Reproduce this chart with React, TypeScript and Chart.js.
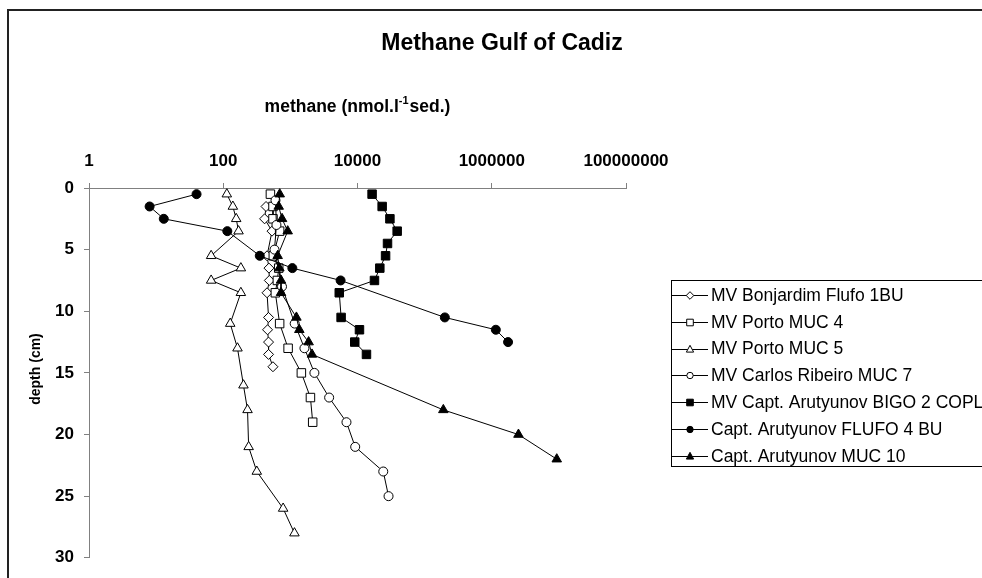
import React, { useEffect, useRef } from 'react';
import { Chart, registerables } from 'chart.js';

Chart.register(...registerables);

// ---------------- data ----------------
const chartTitle = 'Methane Gulf of Cadiz';
const xTitleMain = 'methane (nmol.l';
const xTitleSup = '-1';
const xTitleEnd = 'sed.)';
const yTitle = 'depth (cm)';

const xTickValues = [1, 100, 10000, 1000000, 100000000];
const yTickValues = [0, 5, 10, 15, 20, 25, 30];

const seriesNames = [
  'MV Bonjardim Flufo 1BU',
  'MV Porto MUC 4',
  'MV Porto MUC 5',
  'MV Carlos Ribeiro MUC 7',
  'MV Capt. Arutyunov BIGO 2 COPL1',
  'Capt. Arutyunov FLUFO 4 BU',
  'Capt. Arutyunov MUC 10',
];

const bonjardimDepth = [1.5, 2.5, 3.5, 5.5, 6.5, 7.5, 8.5, 10.5, 11.5, 12.5, 13.5, 14.5];
const bonjardimMethane = [434, 413, 533, 449, 480, 486, 449, 473, 457, 473, 473, 550];

const portoMuc4Depth = [0.5, 1.5, 2.5, 3.5, 5.5, 6.5, 7.5, 8.5, 11, 13, 15, 17, 19];
const portoMuc4Methane = [504, 551, 551, 692, 557, 670, 640, 597, 692, 925, 1458, 1990, 2150];

const portoMuc5Depth = [0.5, 1.5, 2.5, 3.5, 5.5, 6.5, 7.5, 8.5, 11, 13, 16, 18, 21, 23, 26, 28];
const portoMuc5Methane = [113, 139, 156, 169, 66, 183, 66, 183, 127, 163, 200, 230, 239, 316, 780, 1150];

const carlosDepth = [1, 3, 5, 8, 11, 13, 15, 17, 19, 21, 23, 25];
const carlosMethane = [600, 620, 580, 750, 1160, 1620, 2280, 3780, 6850, 9240, 24200, 29000];

const bigoDepth = [0.5, 1.5, 2.5, 3.5, 4.5, 5.5, 6.5, 7.5, 8.5, 10.5, 11.5, 12.5, 13.5];
const bigoMethane = [16500, 23300, 30400, 39000, 28000, 26200, 21500, 17900, 5350, 5700, 10700, 9100, 13600];

const flufo4Depth = [0.5, 1.5, 2.5, 3.5, 5.5, 6.5, 7.5, 10.5, 11.5, 12.5];
const flufo4Methane = [40, 8, 13, 115, 350, 1070, 5600, 200000, 1150000, 1750000];

const muc10Depth = [0.5, 1.5, 2.5, 3.5, 5.5, 6.5, 7.5, 8.5, 10.5, 11.5, 12.5, 13.5, 18, 20, 22];
const muc10Methane = [694, 670, 752, 912, 646, 685, 725, 725, 1230, 1360, 1870, 2100, 190000, 2500000, 9300000];

const seriesDepths = [bonjardimDepth, portoMuc4Depth, portoMuc5Depth, carlosDepth, bigoDepth, flufo4Depth, muc10Depth];
const seriesMethane = [bonjardimMethane, portoMuc4Methane, portoMuc5Methane, carlosMethane, bigoMethane, flufo4Methane, muc10Methane];

// ---------------- styles ----------------
const FONT = '"Liberation Sans", Arial, Helvetica, sans-serif';
type Marker = { kind: 'diamond' | 'square' | 'triangle' | 'circle'; filled: boolean };
const markers: Marker[] = [
  { kind: 'diamond', filled: false },
  { kind: 'square', filled: false },
  { kind: 'triangle', filled: false },
  { kind: 'circle', filled: false },
  { kind: 'square', filled: true },
  { kind: 'circle', filled: true },
  { kind: 'triangle', filled: true },
];
const chartPointStyle: Record<string, { style: string; radius: number }> = {
  diamond: { style: 'rectRot', radius: 5 },
  square: { style: 'rect', radius: 6 },
  triangle: { style: 'triangle', radius: 5.5 },
  circle: { style: 'circle', radius: 4.5 },
};

function drawLegendMarker(ctx: CanvasRenderingContext2D, m: Marker, x: number, y: number) {
  ctx.beginPath();
  if (m.kind === 'diamond') {
    const r = 3.8;
    ctx.moveTo(x, y - r);
    ctx.lineTo(x + r, y);
    ctx.lineTo(x, y + r);
    ctx.lineTo(x - r, y);
    ctx.closePath();
  } else if (m.kind === 'square') {
    const s = 3.3;
    ctx.rect(x - s, y - s, 2 * s, 2 * s);
  } else if (m.kind === 'triangle') {
    const r = 4.2;
    ctx.moveTo(x, y - r);
    ctx.lineTo(x + r * 0.866, y + r * 0.5 + 0.5);
    ctx.lineTo(x - r * 0.866, y + r * 0.5 + 0.5);
    ctx.closePath();
  } else {
    ctx.arc(x, y, 3.2, 0, Math.PI * 2);
  }
  ctx.fillStyle = m.filled ? '#000' : '#fff';
  ctx.fill();
  ctx.lineWidth = 1;
  ctx.strokeStyle = '#000';
  ctx.stroke();
}

const decorPlugin = {
  id: 'decor',
  afterDraw(chart: any) {
    const ctx: CanvasRenderingContext2D = chart.ctx;
    const area = chart.chartArea;
    ctx.save();
    // outer frame
    ctx.strokeStyle = '#222';
    ctx.lineWidth = 2;
    ctx.strokeRect(8, 10, 1200, 1200);

    // main title
    ctx.fillStyle = '#000';
    ctx.font = `bold 23px ${FONT}`;
    ctx.textAlign = 'center';
    ctx.textBaseline = 'alphabetic';
    ctx.fillText(chartTitle, 502, 50);

    // x axis title with superscript
    const mainFont = `bold 17.5px ${FONT}`;
    const supFont = `bold 11px ${FONT}`;
    ctx.font = mainFont;
    const w1 = ctx.measureText(xTitleMain).width;
    const w3 = ctx.measureText(xTitleEnd).width;
    ctx.font = supFont;
    const w2 = ctx.measureText(xTitleSup).width;
    const total = w1 + w2 + w3 + 1;
    const cx = (area.left + area.right) / 2;
    let x = cx - total / 2;
    const base = 112;
    ctx.textAlign = 'left';
    ctx.font = mainFont;
    ctx.fillText(xTitleMain, x, base);
    x += w1;
    ctx.font = supFont;
    ctx.fillText(xTitleSup, x, base - 8);
    x += w2 + 1;
    ctx.font = mainFont;
    ctx.fillText(xTitleEnd, x, base);

    // y axis title
    ctx.save();
    ctx.translate(40, 369);
    ctx.rotate(-Math.PI / 2);
    ctx.font = `bold 14px ${FONT}`;
    ctx.textAlign = 'center';
    ctx.textBaseline = 'alphabetic';
    ctx.fillText(yTitle, 0, 0);
    ctx.restore();

    // legend
    ctx.strokeStyle = '#000';
    ctx.lineWidth = 1;
    ctx.strokeRect(671.5, 280.5, 400, 186);
    ctx.font = `17.5px ${FONT}`;
    ctx.textAlign = 'left';
    ctx.textBaseline = 'middle';
    seriesNames.forEach((name, i) => {
      const yy = 295 + i * 26.8;
      ctx.beginPath();
      ctx.moveTo(672, Math.round(yy) + 0.5);
      ctx.lineTo(708, Math.round(yy) + 0.5);
      ctx.strokeStyle = '#000';
      ctx.lineWidth = 1;
      ctx.stroke();
      drawLegendMarker(ctx, markers[i], 690, Math.round(yy) + 0.5);
      ctx.fillStyle = '#000';
      ctx.fillText(name, 711, yy + 1);
    });
    ctx.restore();
  },
};

export default function App() {
  const canvasRef = useRef<HTMLCanvasElement | null>(null);

  useEffect(() => {
    if (!canvasRef.current) return;
    Chart.defaults.font.family = FONT;
    const datasets = seriesNames.map((name, i) => {
      const m = markers[i];
      const ps = chartPointStyle[m.kind];
      return {
        label: name,
        data: seriesDepths[i].map((d, j) => ({ x: seriesMethane[i][j], y: d })),
        showLine: true,
        borderColor: '#000',
        borderWidth: 1,
        pointStyle: ps.style,
        pointRadius: ps.radius,
        pointHoverRadius: ps.radius,
        pointBackgroundColor: m.filled ? '#000' : '#fff',
        pointBorderColor: '#000',
        pointBorderWidth: 1,
        tension: 0,
        order: seriesNames.length - i,
      };
    });

    const chart = new Chart(canvasRef.current, {
      type: 'scatter',
      data: { datasets },
      plugins: [decorPlugin],
      options: {
        responsive: false,
        animation: false,
        devicePixelRatio: 1,
        layout: { padding: { top: 0, left: 0, right: 356, bottom: 19 } },
        plugins: {
          legend: { display: false },
          title: { display: false },
          tooltip: { enabled: false },
        },
        scales: {
          x: {
            type: 'logarithmic',
            position: 'top',
            min: 1,
            max: 100000000,
            afterBuildTicks: (scale: any) => {
              scale.ticks = xTickValues.map((v) => ({ value: v }));
            },
            afterFit: (scale: any) => {
              scale.height = 188;
            },
            ticks: {
              autoSkip: false,
              maxRotation: 0,
              padding: 11,
              color: '#000',
              font: { size: 17, weight: 'bold', family: FONT },
              callback: (v: any) => String(v),
            },
            grid: {
              drawOnChartArea: false,
              drawTicks: true,
              tickLength: 5,
              color: '#808080',
            },
            border: { display: true, color: '#808080', width: 1 },
          },
          y: {
            type: 'linear',
            position: 'left',
            reverse: true,
            min: 0,
            max: 30,
            afterBuildTicks: (scale: any) => {
              scale.ticks = yTickValues.map((v) => ({ value: v }));
            },
            afterFit: (scale: any) => {
              scale.width = 89;
            },
            ticks: {
              padding: 10,
              color: '#000',
              font: { size: 17, weight: 'bold', family: FONT },
            },
            grid: {
              drawOnChartArea: false,
              drawTicks: true,
              tickLength: 5,
              color: '#808080',
            },
            border: { display: true, color: '#808080', width: 1 },
          },
        },
      } as any,
    });
    return () => chart.destroy();
  }, []);

  return (
    <div style={{ position: 'fixed', left: 0, top: 0, width: 982, height: 578, background: '#fff', overflow: 'hidden' }}>
      <canvas ref={canvasRef} width={982} height={578} style={{ width: 982, height: 578, display: 'block' }} />
    </div>
  );
}
